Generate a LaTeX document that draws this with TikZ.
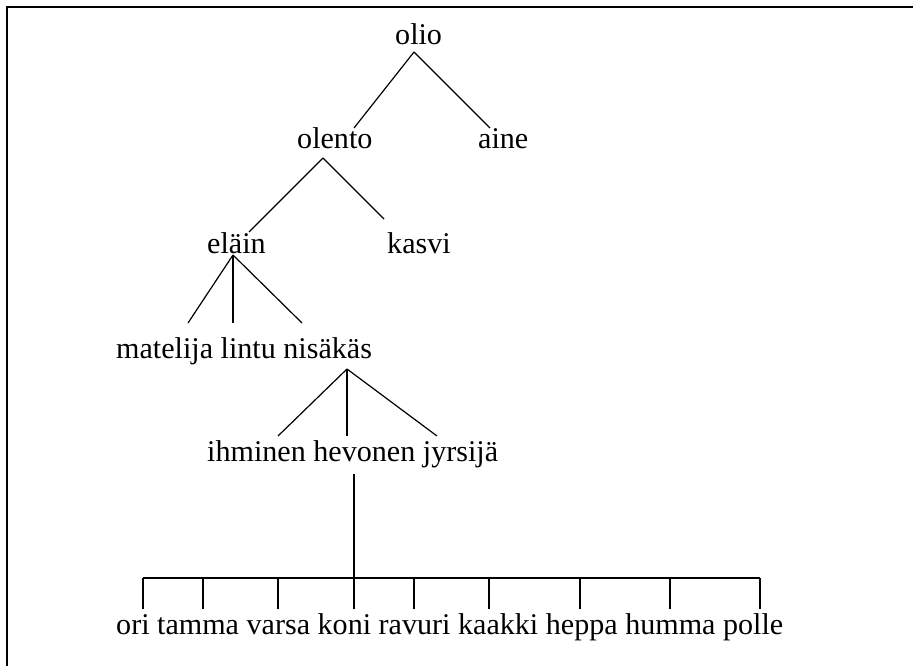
\documentclass[tikz,border=0pt]{standalone}
\usepackage{fontspec}
\setmainfont{Liberation Serif}
\begin{document}
\begin{tikzpicture}[x=1pt,y=-1pt,
  lbl/.style={inner sep=0pt, anchor=base west, font=\fontsize{30.1}{32}\selectfont},
  conn/.style={line width=1.2pt, line cap=butt},
  frame/.style={line width=1.7pt}]
\useasboundingbox (0,0) rectangle (913,666);
\draw[frame] (7,667) -- (7,7) -- (914,7);

% labels
\node[lbl] (olio)   at (395,45)  {olio};
\node[lbl] (olento) at (297,149) {olento};
\node[lbl] (aine)   at (478,149) {aine};
\node[lbl] (elain)  at (207,253) {eläin};
\node[lbl] (kasvi)  at (387,253) {kasvi};
\node[lbl] (row3)   at (116,358) {matelija lintu nisäkäs};
\node[lbl] (row4)   at (207,461) {ihminen hevonen jyrsijä};
\node[lbl] (row5)   at (116,634) {ori tamma varsa koni ravuri kaakki heppa humma polle};

% connector end points
\coordinate (olioB)   at (414,52);
\coordinate (olentoT) at (354,128);
\coordinate (aineT)   at (490,128);
\coordinate (olentoB) at (323,158);
\coordinate (elainT)  at (249,232);
\coordinate (kasviT)  at (384,219);
\coordinate (elainB)  at (233,255);
\coordinate (matT)    at (188,323);
\coordinate (linT)    at (233,323);
\coordinate (nisT)    at (302,323);
\coordinate (nisB)    at (347,369);
\coordinate (ihmT)    at (278,436);
\coordinate (hevT)    at (347,436);
\coordinate (jyrT)    at (437,436);
\coordinate (hevB)    at (354,474);
\coordinate (barM)    at (354,578);
\coordinate (barL)    at (143,578);
\coordinate (barR)    at (760,578);

\draw[conn] (olioB) -- (olentoT);
\draw[conn] (olioB) -- (aineT);
\draw[conn] (olentoB) -- (elainT);
\draw[conn] (olentoB) -- (kasviT);
\draw[conn] (elainB) -- (matT);
\draw[conn] (elainB) -- (linT);
\draw[conn] (elainB) -- (nisT);
\draw[conn] (nisB) -- (ihmT);
\draw[conn] (nisB) -- (hevT);
\draw[conn] (nisB) -- (jyrT);
\draw[conn] (hevB) -- (barM);
\draw[conn] (barL) -- (barR);
\foreach \x/\n in {143/ori,203/tamma,278/varsa,354/koni,414/ravuri,489/kaakki,580/heppa,670/humma,760/polle}{
  \coordinate (t\n) at (\x,578);
  \coordinate (b\n) at (\x,609);
  \draw[conn] (t\n) -- (b\n);
}
\end{tikzpicture}
\end{document}
